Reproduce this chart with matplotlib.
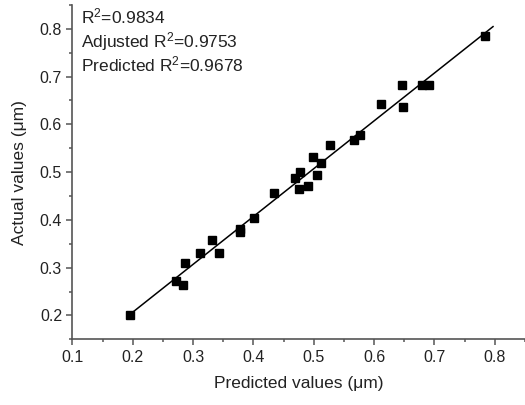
import numpy as np
import matplotlib
matplotlib.use('Agg')
import matplotlib.pyplot as plt
from matplotlib.ticker import MultipleLocator

plt.rcParams['font.family'] = ['Liberation Sans', 'DejaVu Sans']
plt.rcParams['mathtext.fontset'] = 'custom'
plt.rcParams['mathtext.rm'] = 'Liberation Sans'
plt.rcParams['mathtext.it'] = 'Liberation Sans'

# values
predicted = [0.195, 0.271, 0.283, 0.287, 0.311, 0.331, 0.343, 0.377, 0.377, 0.401,
             0.434, 0.469, 0.477, 0.475, 0.490, 0.498, 0.505, 0.512, 0.527, 0.567,
             0.576, 0.612, 0.646, 0.648, 0.679, 0.691, 0.784]
actual = [0.202, 0.272, 0.264, 0.310, 0.330, 0.359, 0.331, 0.380, 0.375, 0.403,
          0.456, 0.488, 0.501, 0.464, 0.470, 0.531, 0.493, 0.520, 0.557, 0.568,
          0.577, 0.643, 0.682, 0.637, 0.682, 0.682, 0.785]
fit_range = [0.197, 0.797]
stats = ['R$^2$=0.9834', 'Adjusted R$^2$=0.9753', 'Predicted R$^2$=0.9678']

fig = plt.figure(figsize=(5.25, 4.05), dpi=100)
ax = fig.add_axes([0.138, 0.162, 0.862, 0.826])

slope, intercept = np.polyfit(predicted, actual, 1)
xf = np.array(fit_range)
ax.plot(xf, slope * xf + intercept, color='black', lw=1.1, zorder=2)
ax.plot(predicted, actual, 's', color='black', ms=5.5, zorder=3)

ax.set_xlim(0.1, 0.85)
ax.set_ylim(0.15, 0.85)
ax.xaxis.set_major_locator(MultipleLocator(0.1))
ax.xaxis.set_minor_locator(MultipleLocator(0.05))
ax.yaxis.set_major_locator(MultipleLocator(0.1))
ax.yaxis.set_minor_locator(MultipleLocator(0.05))
ax.xaxis.set_major_formatter(lambda v, p: f'{v:.1f}')
ax.yaxis.set_major_formatter(lambda v, p: f'{v:.1f}')

for s in ['top', 'right']:
    ax.spines[s].set_visible(False)
for s in ['left', 'bottom']:
    ax.spines[s].set_color('#555555')
    ax.spines[s].set_linewidth(1.2)
ax.tick_params(which='major', direction='out', length=4.5, width=1.1, color='#555555',
               labelsize=11.5, labelcolor='#222222', pad=3)
ax.tick_params(which='minor', direction='out', length=2.5, width=1.1, color='#555555')

ax.set_xlabel('Predicted values (μm)', fontsize=12.5, color='#222222', labelpad=8)
ax.set_ylabel('Actual values (μm)', fontsize=12.5, color='#222222', labelpad=9)

for i, t in enumerate(stats):
    ax.text(0.018, 0.946 - i * 0.073, t, transform=ax.transAxes, fontsize=12.5,
            color='#222222', va='baseline', ha='left')

fig.savefig('out.png', dpi=100)
